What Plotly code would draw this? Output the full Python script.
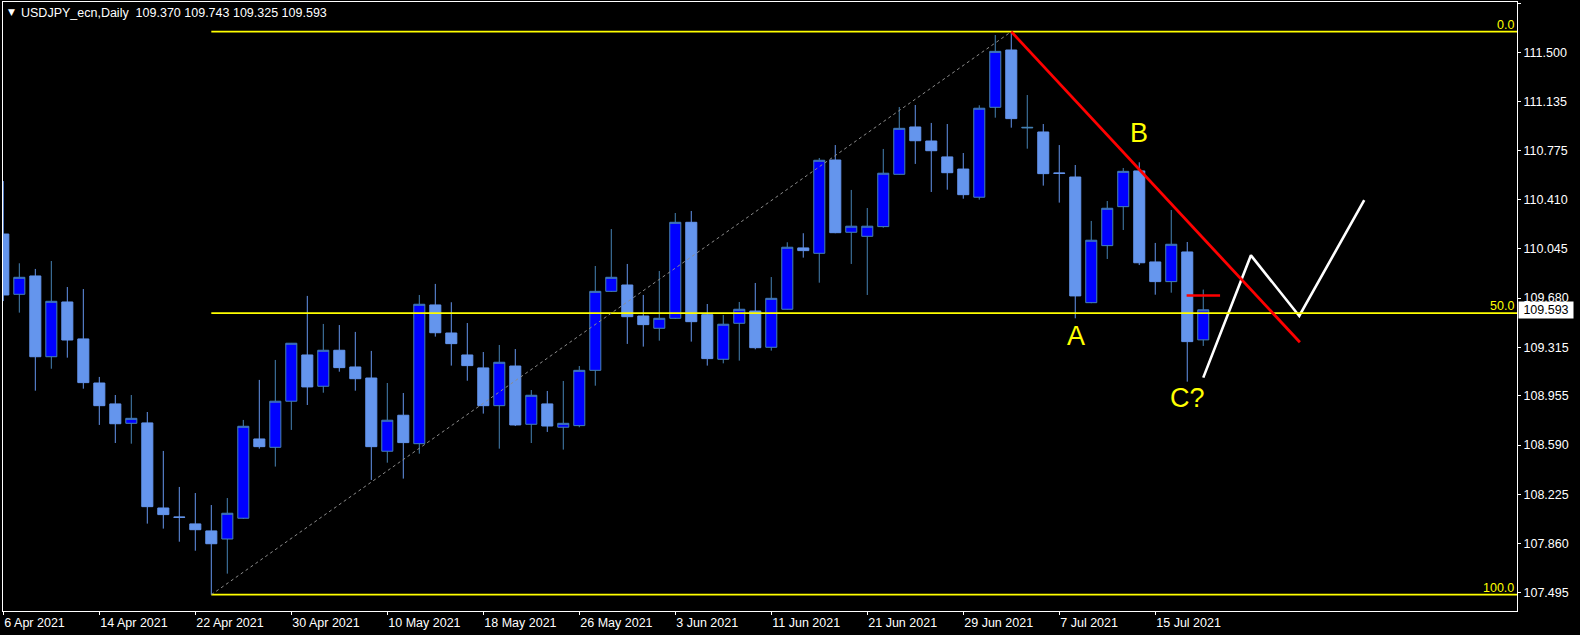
import plotly.graph_objects as go
import pandas as pd

# ---------------- data ----------------
dates = pd.bdate_range("2021-04-06", "2021-07-20")
bars = list(range(len(dates)))

opens = [110.155, 109.708, 109.844, 109.245, 109.651, 109.377, 109.050, 108.895, 108.751, 108.754,
         108.123, 108.056, 108.005, 107.953, 107.893, 108.047, 108.635, 108.573, 108.915, 109.258,
         109.026, 109.293, 109.169, 109.087, 108.544, 108.811, 108.600, 109.629, 109.421, 109.258,
         109.162, 108.882, 109.176, 108.744, 108.895, 108.722, 108.734, 109.144, 109.730, 109.777,
         109.547, 109.456, 109.530, 110.242, 109.557, 109.226, 109.493, 109.584, 109.315, 109.597,
         110.052, 110.012, 110.704, 110.168, 110.138, 110.210, 110.598, 110.949, 110.845, 110.727,
         110.637, 110.428, 111.095, 111.520, 110.942, 110.912, 110.608, 110.578, 109.646, 110.069,
         110.358, 110.623, 109.948, 109.802, 110.022, 109.370]
highs = [110.548, 109.938, 109.896, 109.955, 109.762, 109.747, 109.095, 108.961, 108.961, 108.835,
         108.546, 108.279, 108.234, 108.145, 108.197, 108.776, 109.073, 109.221, 109.347, 109.696,
         109.488, 109.480, 109.429, 109.288, 109.050, 108.976, 109.703, 109.785, 109.649, 109.495,
         109.280, 109.332, 109.302, 108.998, 108.991, 109.065, 109.176, 109.918, 110.192, 109.933,
         109.703, 109.881, 110.311, 110.326, 109.636, 109.555, 109.651, 109.792, 109.836, 110.094,
         110.161, 110.719, 110.815, 110.482, 110.348, 110.786, 111.097, 111.112, 110.979, 110.971,
         110.756, 111.110, 111.631, 111.656, 111.186, 110.971, 110.815, 110.667, 110.252, 110.400,
         110.645, 110.687, 110.089, 110.333, 110.096, 109.743]
lows = [109.658, 109.572, 108.993, 109.156, 109.238, 109.008, 108.739, 108.605, 108.600, 108.007,
        107.970, 107.873, 107.806, 107.480, 107.636, 108.042, 108.563, 108.430, 108.702, 108.887,
        108.978, 109.134, 108.993, 108.331, 108.459, 108.341, 108.526, 109.394, 109.179, 109.067,
        108.823, 108.563, 108.731, 108.605, 108.687, 108.556, 108.722, 109.030, 109.725, 109.340,
        109.320, 109.364, 109.525, 109.357, 109.179, 109.196, 109.216, 109.300, 109.290, 109.595,
        109.980, 109.794, 110.161, 109.933, 109.703, 110.202, 110.595, 110.675, 110.467, 110.484,
        110.417, 110.410, 111.018, 110.944, 110.788, 110.514, 110.388, 109.530, 109.642, 109.970,
        110.185, 109.925, 109.705, 109.720, 109.060, 109.325]
closes = [109.703, 109.834, 109.245, 109.656, 109.369, 109.053, 108.882, 108.748, 108.788, 108.133,
          108.074, 108.054, 107.962, 107.858, 108.084, 108.729, 108.578, 108.915, 109.345, 109.021,
          109.293, 109.164, 109.082, 108.578, 108.774, 108.608, 109.634, 109.423, 109.342, 109.179,
          108.882, 109.204, 108.739, 108.959, 108.731, 108.751, 109.144, 109.730, 109.834, 109.542,
          109.483, 109.530, 110.242, 109.505, 109.231, 109.486, 109.597, 109.312, 109.678, 110.057,
          110.032, 110.702, 110.165, 110.213, 110.213, 110.606, 110.939, 110.847, 110.773, 110.610,
          110.447, 111.088, 111.510, 111.011, 110.946, 110.603, 110.605, 109.696, 110.109, 110.346,
          110.620, 109.942, 109.802, 110.079, 109.357, 109.593]

tick_dates = ["2021-04-06", "2021-04-14", "2021-04-22", "2021-04-30", "2021-05-10", "2021-05-18",
              "2021-05-26", "2021-06-03", "2021-06-11", "2021-06-21", "2021-06-29", "2021-07-07",
              "2021-07-15"]
tick_labels = ["6 Apr 2021", "14 Apr 2021", "22 Apr 2021", "30 Apr 2021", "10 May 2021",
               "18 May 2021", "26 May 2021", "3 Jun 2021", "11 Jun 2021", "21 Jun 2021",
               "29 Jun 2021", "7 Jul 2021", "15 Jul 2021"]
price_ticks = [111.865, 111.500, 111.135, 110.775, 110.410, 110.045, 109.680,
               109.315, 108.955, 108.590, 108.225, 107.860, 107.495]

# Fibonacci retracement (23 Apr low -> 2 Jul high)
fib_start_bar, fib_end_bar = 13, 63
fib_low, fib_high = 107.480, 111.656
fib_levels = [0.0, 50.0, 100.0]

# hand-drawn objects (bar index, price)
trend_x, trend_y = [63, 81.04], [111.656, 109.352]
hline_x, hline_y = [73.96, 76.05], [109.699, 109.699]
zig_x = [75, 77.98, 81.0, 85.06]
zig_y = [109.090, 109.997, 109.547, 110.407]
wave_labels = ["A", "B", "C?"]
wave_x = [67.03, 70.98, 74.01]
wave_y = [109.397, 110.902, 108.939]

title_text = "USDJPY_ecn,Daily\u00a0\u00a0109.370 109.743 109.325 109.593"
last_price = closes[-1]

# ---------------- figure ----------------
X_MAX = 94.61
date_strs = [d.strftime("%Y-%m-%d") for d in dates]
tick_pos = [date_strs.index(d) for d in tick_dates]

fig = go.Figure()
fig.add_trace(go.Candlestick(
    x=bars, open=opens, high=highs, low=lows, close=closes,
    increasing=dict(fillcolor="#0000FF", line=dict(color="#4682B4", width=1)),
    decreasing=dict(fillcolor="#6495ED", line=dict(color="#6495ED", width=1)),
    whiskerwidth=0, hoverinfo="skip", showlegend=False,
))
fig.add_trace(go.Scatter(x=zig_x, y=zig_y, mode="lines",
                         line=dict(color="white", width=2.6), hoverinfo="skip", showlegend=False))

shapes = []
fib_prices = [fib_high - (fib_high - fib_low) * lv / 100.0 for lv in fib_levels]
for p in fib_prices:
    shapes.append(dict(type="line", xref="x", yref="y", x0=fib_start_bar, x1=X_MAX, y0=p, y1=p,
                       line=dict(color="#FFFF00", width=1.8)))
shapes.append(dict(type="line", xref="x", yref="y", x0=fib_start_bar, y0=fib_low,
                   x1=fib_end_bar, y1=fib_high, line=dict(color="#8C8C8C", width=1, dash="dot")))
shapes.append(dict(type="line", xref="x", yref="y", x0=trend_x[0], y0=trend_y[0],
                   x1=trend_x[1], y1=trend_y[1], line=dict(color="#FF0000", width=2.8)))
shapes.append(dict(type="line", xref="x", yref="y", x0=hline_x[0], y0=hline_y[0],
                   x1=hline_x[1], y1=hline_y[1], line=dict(color="#FF0000", width=2.4)))

annotations = []
for lv, p in zip(fib_levels, fib_prices):
    annotations.append(dict(xref="paper", yref="y", x=1, y=p, xanchor="right", yanchor="bottom",
                            xshift=-1, yshift=-2, text=f"{lv:.1f}", showarrow=False,
                            font=dict(color="#FFFF00", size=12.5)))
for t, xx, yy in zip(wave_labels, wave_x, wave_y):
    annotations.append(dict(xref="x", yref="y", x=xx, y=yy, text=t, showarrow=False,
                            xanchor="center", yanchor="middle",
                            font=dict(color="#FFFF00", size=27)))
annotations.append(dict(xref="paper", yref="paper", x=0, y=1, xshift=3, yshift=-10,
                        xanchor="left", yanchor="middle", text="\u25BC", showarrow=False,
                        font=dict(color="white", size=9, family="DejaVu Sans")))
annotations.append(dict(xref="paper", yref="paper", x=0, y=1, xshift=16, yshift=-10.5,
                        xanchor="left", yanchor="middle", text=title_text, showarrow=False,
                        font=dict(color="white", size=12.5)))
annotations.append(dict(xref="paper", yref="y", x=1, y=last_price, xanchor="left", yanchor="middle",
                        xshift=1, text=f"{last_price:.3f}", showarrow=False, bgcolor="white",
                        width=52, align="center", borderpad=1,
                        font=dict(color="black", size=12.5)))

fig.update_layout(
    width=1580, height=635,
    margin=dict(l=3, r=63, t=2, b=24, autoexpand=False),
    paper_bgcolor="black", plot_bgcolor="black",
    showlegend=False, boxgap=0.31, boxgroupgap=0,
    font=dict(family="Liberation Sans, Arial, sans-serif", size=12.5, color="white"),
    shapes=shapes, annotations=annotations,
    xaxis=dict(range=[-0.02, X_MAX], rangeslider=dict(visible=False),
               tickmode="array", tickvals=tick_pos, ticktext=tick_labels,
               ticks="outside", ticklen=3, tickcolor="white", tickwidth=1,
               ticklabelposition="outside right",
               showgrid=False, zeroline=False, showline=True, linecolor="white",
               linewidth=1, mirror=True, fixedrange=True),
    yaxis=dict(side="right", range=[107.359, 111.876],
               tickmode="array", tickvals=price_ticks,
               ticktext=[f"{v:.3f}" for v in price_ticks],
               ticks="outside", ticklen=3, tickcolor="white", tickwidth=1,
               showgrid=False, zeroline=False, showline=True, linecolor="white",
               linewidth=1, mirror=True, fixedrange=True),
)

fig.write_html("out.html", config={"displayModeBar": False},
               post_script="document.body.style.margin='0';document.body.style.background='black';")
